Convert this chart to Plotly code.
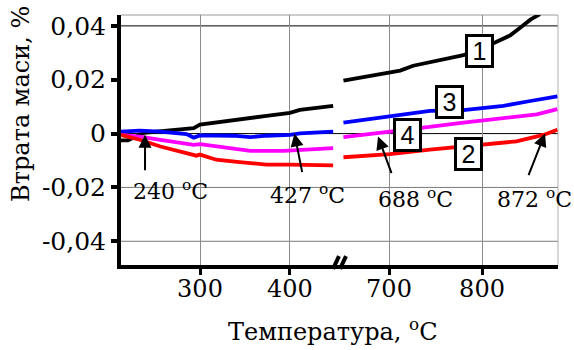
import plotly.graph_objects as go

# ---- data ----
c1_left_t = [212, 220, 228, 238, 263, 285, 293, 300, 337, 374, 400, 411, 448]
c1_left_v = [-0.0025, -0.0025, -0.0012, 0.0003, 0.0011, 0.0019, 0.0020, 0.0033, 0.0051, 0.0066, 0.0077, 0.0088, 0.0103]
c1_right_t = [651, 672, 680, 701, 712, 726, 744, 766, 780, 814, 830, 841, 852, 861, 866]
c1_right_v = [0.0197, 0.0209, 0.0215, 0.0225, 0.0234, 0.0252, 0.0264, 0.0279, 0.0291, 0.0338, 0.0364, 0.0393, 0.0423, 0.0441, 0.047]

c2_left_t = [212, 233, 256, 289, 296, 300, 318, 344, 374, 400, 430, 448]
c2_left_v = [-0.0005, -0.0023, -0.0048, -0.0076, -0.0082, -0.0078, -0.0097, -0.0106, -0.0115, -0.0115, -0.0119, -0.0118]
c2_right_t = [651, 701, 744, 798, 837, 866, 881]
c2_right_v = [-0.0088, -0.0076, -0.0060, -0.0044, -0.0029, -0.0005, 0.0014]

c3_left_t = [212, 233, 256, 285, 293, 300, 337, 356, 374, 400, 411, 448]
c3_left_v = [0.0007, 0.0011, 0.0007, -0.0002, -0.0015, -0.0007, -0.0008, -0.0013, -0.0008, -0.0005, 0.0001, 0.0007]
c3_right_t = [651, 701, 744, 780, 800, 823, 852, 881]
c3_right_v = [0.0041, 0.0066, 0.0084, 0.0087, 0.0095, 0.0103, 0.0121, 0.0138]

c4_left_t = [212, 233, 256, 293, 300, 337, 356, 393, 430, 448]
c4_left_v = [-0.0005, -0.0011, -0.0023, -0.0042, -0.0039, -0.0054, -0.0064, -0.0064, -0.0058, -0.0054]
c4_right_t = [651, 687, 701, 737, 780, 823, 859, 881]
c4_right_v = [-0.0013, 0.0001, 0.0010, 0.0022, 0.0041, 0.0056, 0.0071, 0.0091]

left_ticks = [300, 400]
right_ticks = [700, 800]
y_ticks = [-0.04, -0.02, 0, 0.02, 0.04]
y_tick_text = ["-0,04", "-0,02", "0", "0,02", "0,04"]
grid_y = [0.04, 0, -0.02, -0.04]
grid_y_colors = ["#000000", "#000000", "#7a7a7a", "#7a7a7a"]

series = [
    ("1", "#000000", c1_left_t, c1_left_v, c1_right_t, c1_right_v),
    ("2", "#ff0000", c2_left_t, c2_left_v, c2_right_t, c2_right_v),
    ("3", "#0000ff", c3_left_t, c3_left_v, c3_right_t, c3_right_v),
    ("4", "#ff00ff", c4_left_t, c4_left_v, c4_right_t, c4_right_v),
]

# box labels: (text, axis, x, y)
box_labels = [("1", "x2", 797, 0.0308), ("3", "x2", 764.5, 0.0117),
              ("4", "x2", 719.4, -0.0004), ("2", "x2", 785, -0.0077)]
temp_labels = [("240 <sup>o</sup>C", "x", 267, -0.0209), ("427 <sup>o</sup>C", "x", 419, -0.0224),
               ("688 <sup>o</sup>C", "x2", 729, -0.0239), ("872 <sup>o</sup>C", "x2", 856, -0.0239)]
# arrows: (axis, head x, head y, ax, ay)
arrows = [("x", 238.9, -0.0004, 0, 37), ("x", 405, 0.0, 8, 40),
          ("x2", 688.2, -0.0011, 14, 38), ("x2", 867.7, 0.0, -17, 43)]

fig = go.Figure()
order = [series[0], series[2], series[3], series[1]]
for name, col, lt, lv, rt, rv in order:
    fig.add_trace(go.Scatter(x=lt, y=lv, mode="lines", line=dict(color=col, width=3.8),
                             xaxis="x", yaxis="y", showlegend=False))
    fig.add_trace(go.Scatter(x=rt, y=rv, mode="lines", line=dict(color=col, width=3.8),
                             xaxis="x2", yaxis="y", showlegend=False))

serif = "DejaVu Serif"
sans = "Liberation Sans"
d1 = (340 - 121) / 437
xcommon = dict(showgrid=True, gridcolor="#8c8c8c", gridwidth=1, zeroline=False,
               showline=True, linecolor="black", linewidth=4, ticks="outside",
               tickwidth=3, ticklen=6, tickcolor="black", ticklabelstandoff=-7,
               tickfont=dict(family=serif, size=24, color="black"), anchor="y")

fig.update_layout(
    width=574, height=350,
    margin=dict(l=121, r=16, t=12, b=85),
    plot_bgcolor="white", paper_bgcolor="white",
    font=dict(family=serif, color="black"),
    xaxis=dict(domain=[0, d1], range=[212.2, 455.6], tickvals=left_ticks, **xcommon),
    xaxis2=dict(domain=[d1, 1], range=[647.3, 881.7], tickvals=right_ticks, **xcommon),
    yaxis=dict(range=[-0.04881, 0.04404], tickvals=y_ticks, ticktext=y_tick_text,
               showgrid=False, zeroline=False, showline=True, linecolor="black", linewidth=4,
               ticks="outside", tickwidth=4, ticklen=6, tickcolor="black",
               tickfont=dict(family=serif, size=25, color="black"), anchor="x"),
)

shapes = []
for gy, gc in zip(grid_y, grid_y_colors):
    shapes.append(dict(type="line", xref="paper", yref="y", x0=0, x1=1, y0=gy, y1=gy,
                       line=dict(color=gc, width=1), layer="below"))
shapes.append(dict(type="line", xref="paper", yref="paper", x0=0, x1=1, y0=1, y1=1,
                   line=dict(color="#9a9a9a", width=1), layer="below"))
shapes.append(dict(type="line", xref="paper", yref="paper", x0=1, x1=1, y0=0, y1=1,
                   line=dict(color="#b0b0b0", width=1), layer="below"))
# axis break marks
def px2paper(px, py):
    return (px - 121) / 437, (265 - py) / 253
for (xa, ya, xb, yb) in [(333, 269, 339, 256), (340, 269, 346, 256)]:
    p0 = px2paper(xa, ya)
    p1 = px2paper(xb, yb)
    shapes.append(dict(type="line", xref="paper", yref="paper", x0=p0[0], y0=p0[1],
                       x1=p1[0], y1=p1[1], line=dict(color="black", width=4)))
fig.update_layout(shapes=shapes)

ann = []
for txt, ax_, xv, yv in temp_labels:
    ann.append(dict(text=txt, xref=ax_, yref="y", x=xv, y=yv, showarrow=False,
                    xanchor="center", yanchor="middle",
                    font=dict(family=serif, size=22, color="black")))
for ax_, hx, hy, dx, dy in arrows:
    ann.append(dict(text="", xref=ax_, yref="y", x=hx, y=hy, showarrow=True,
                    arrowhead=2, arrowsize=1.3, arrowwidth=2, arrowcolor="black",
                    ax=dx, ay=dy))
for txt, ax_, xv, yv in box_labels:
    ann.append(dict(text=txt, xref=ax_, yref="y", x=xv, y=yv, showarrow=False,
                    xanchor="center", yanchor="middle", width=23,
                    font=dict(family=sans, size=25, color="black"),
                    bgcolor="white", bordercolor="black", borderwidth=3, borderpad=0))
ann.append(dict(text="Температура, <sup>o</sup>C", xref="paper", yref="paper",
                x=(333 - 121) / 437, y=(265 - 331) / 253, showarrow=False,
                xanchor="center", yanchor="middle",
                font=dict(family=serif, size=24, color="black")))
ann.append(dict(text="Втрата маси, %", xref="paper", yref="paper",
                x=(21 - 121) / 437, y=(265 - 102) / 253, showarrow=False, textangle=-90,
                xanchor="center", yanchor="middle",
                font=dict(family=serif, size=24, color="black")))
fig.update_layout(annotations=ann)

fig.write_html("out.html")
